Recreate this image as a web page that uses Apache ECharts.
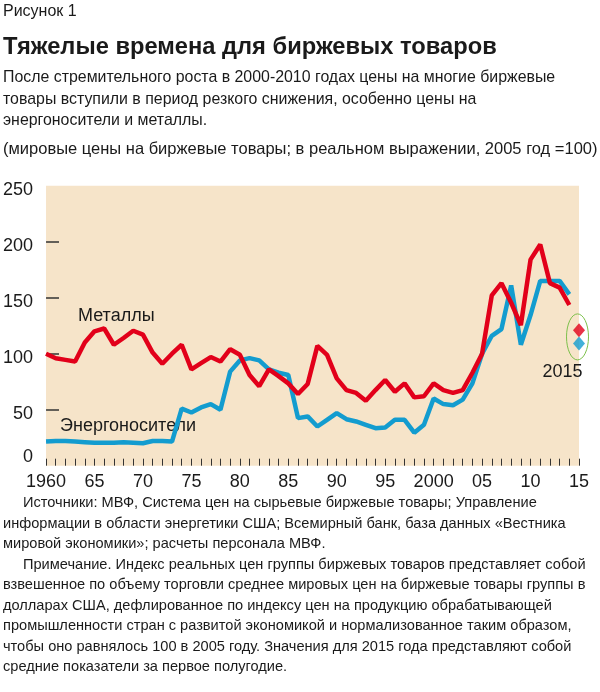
<!DOCTYPE html>
<html>
<head>
<meta charset="utf-8">
<script src="https://cdn.jsdelivr.net/npm/echarts@6/dist/echarts.min.js"></script>
<style>
  html, body { margin: 0; padding: 0; background: #fff; }
  #chart { width: 600px; height: 692px; }
</style>
</head>
<body>
<div id="chart"></div>
<script>
// годы 1960–2015
var years = [];
for (var y = 1960; y <= 2015; y++) years.push(String(y));

// Металлы, 1960–2014 (2005 = 100)
var metals = [
  100, 96, 94.5, 93, 110, 120, 122.5, 108, 114, 120.5,
  117, 101, 91, 100, 108, 86, 91.5, 97, 93, 104,
  99, 81, 71, 86, 80, 73.5, 64, 73, 107, 99,
  78, 67.5, 65, 58, 67.5, 76.5, 66, 73.5, 61, 62,
  73.5, 67.5, 65, 67.5, 83, 100, 152, 163, 145.5, 125.5,
  184, 197.5, 163, 159, 143.5, null
];
// Энергоносители, 1960–2014
var energy = [
  21.5, 22, 22, 21.5, 21, 20.5, 20.5, 20.5, 21, 20.5,
  20, 22, 22, 21.5, 51, 47.5, 52, 55, 50, 84,
  94, 96, 94, 86, 83, 81, 42.5, 44, 35, 41,
  47, 41.5, 39.5, 36.5, 33.5, 34, 41, 41, 29.5, 36.5,
  60, 55, 54, 59, 73.5, 100, 116, 122, 161, 108,
  134.5, 165, 165, 165, 153, null
];
// 2015: среднее за первое полугодие
var metals2015 = 121;
var energy2015 = 109;

var yTicks = [50, 100, 150, 200];

var font = '"Liberation Sans", Arial, sans-serif';
var red = '#e2001a';
var blue = '#139ccf';

var headLines = [
  'После стремительного роста в 2000-2010 годах цены на многие биржевые',
  'товары вступили в период резкого снижения, особенно цены на',
  'энергоносители и металлы.'
];
var unitsLine = '(мировые цены на биржевые товары; в реальном выражении, 2005 год =100)';
var notes = [
  ['Источники: МВФ, Система цен на сырьевые биржевые товары; Управление', true],
  ['информации в области энергетики США; Всемирный банк, база данных «Вестника', false],
  ['мировой экономики»; расчеты персонала МВФ.', false],
  ['Примечание. Индекс реальных цен группы биржевых товаров представляет собой', true],
  ['взвешенное по объему торговли среднее мировых цен на биржевые товары группы в', false],
  ['долларах США, дефлированное по индексу цен на продукцию обрабатывающей', false],
  ['промышленности стран с развитой экономикой и нормализованное таким образом,', false],
  ['чтобы оно равнялось 100 в 2005 году. Значения для 2015 года представляют собой', false],
  ['средние показатели за первое полугодие.', false]
];

// подбор кегля под ширину строки
var ctx = document.createElement('canvas').getContext('2d');
function measure(s, size, weight, fam) {
  ctx.font = (weight || 'normal') + ' ' + size + 'px ' + fam;
  return ctx.measureText(s).width;
}
function fit(s, width, weight, fam) {
  return Math.round(20 * width / measure(s, 20, weight, fam) * 10) / 10;
}
var narrowFam = '"Liberation Sans Narrow", monospace';
var hasNarrow = measure('Примечание abc', 20, 'normal', narrowFam) !==
                measure('Примечание abc', 20, 'normal', 'monospace');
var noteFont = hasNarrow ? '"Liberation Sans Narrow", "Liberation Sans", sans-serif' : font;

function txt(x, y, s, size, weight, fam) {
  return {
    type: 'text', left: x, top: y,
    style: { text: s, font: (weight || 'normal') + ' ' + size + 'px ' + (fam || font), fill: '#1a1a1a' }
  };
}

var titleSize = fit('Тяжелые времена для биржевых товаров', 494, 'bold', font);
var headSize = fit(headLines[0], 552, 'normal', font);
var unitsSize = fit(unitsLine, 594, 'normal', font);
var noteSize = fit(notes[4][0], 582, 'normal', noteFont);

var graphics = [];
graphics.push(txt(3, 4, 'Рисунок 1', 16));
graphics.push(txt(3, 47 - titleSize / 2, 'Тяжелые времена для биржевых товаров', titleSize, 'bold'));
headLines.forEach(function (s, i) {
  graphics.push(txt(3, 78 - headSize / 2 + i * 21.5, s, headSize));
});
graphics.push(txt(3, 149 - unitsSize / 2, unitsLine, unitsSize));
notes.forEach(function (n, i) {
  graphics.push(txt(n[1] ? 23 : 3, 503 - noteSize / 2 + i * 20.5, n[0], noteSize, 'normal', noteFont));
});
graphics.push(txt(78, 307, 'Металлы', 18));
graphics.push(txt(60, 417, 'Энергоносители', 18));

var chart = echarts.init(document.getElementById('chart'));
var option = {
  animation: false,
  grid: {
    left: 45.7, right: 21, top: 185.7, bottom: 226.3,
    show: true, backgroundColor: '#f6e4c9', borderWidth: 0
  },
  xAxis: {
    type: 'category',
    data: years,
    boundaryGap: false,
    axisLine: { show: false },
    axisTick: { show: true, inside: true, length: 7, interval: 0, lineStyle: { color: '#333', width: 1 } },
    axisLabel: {
      interval: function (i) { return i % 5 === 0; },
      formatter: function (v) {
        return (v === '1960' || v === '2000') ? v : v.slice(2);
      },
      fontFamily: font, fontSize: 18, color: '#1a1a1a', margin: 7
    },
    splitLine: { show: false }
  },
  yAxis: {
    type: 'value',
    min: 0, max: 250, interval: 50,
    axisLine: { show: false },
    axisTick: { show: true, inside: true, length: 13, customValues: yTicks, lineStyle: { color: '#333', width: 1.5 } },
    axisLabel: {
      fontFamily: font, fontSize: 18, color: '#1a1a1a', margin: 13,
      formatter: function (v) { return v === 0 ? '{z|0}' : '{a|' + v + '}'; },
      rich: {
        a: { fontFamily: font, fontSize: 18, color: '#1a1a1a', padding: [9, 0, 0, 0] },
        z: { fontFamily: font, fontSize: 18, color: '#1a1a1a', padding: [0, 0, 18, 0] }
      }
    },
    splitLine: { show: false }
  },
  series: [
    {
      name: 'Энергоносители', type: 'line', data: energy,
      symbol: 'none', lineStyle: { color: blue, width: 4.5 }, z: 2
    },
    {
      name: 'Металлы', type: 'line', data: metals,
      symbol: 'none', lineStyle: { color: red, width: 4.5 }, z: 3
    },
    {
      type: 'scatter', data: [['2015', metals2015]],
      symbol: 'diamond', symbolSize: [12, 14], itemStyle: { color: red }, z: 4
    },
    {
      type: 'scatter', data: [['2015', energy2015]],
      symbol: 'diamond', symbolSize: [12, 14], itemStyle: { color: blue }, z: 4
    }
  ],
  graphic: graphics
};
chart.setOption(option);

// овал вокруг точек 2015 года и подпись
var top2015 = chart.convertToPixel({ gridIndex: 0 }, ['2015', metals2015]);
var bot2015 = chart.convertToPixel({ gridIndex: 0 }, ['2015', energy2015]);
var cx = top2015[0] - 1.5, cy = (top2015[1] + bot2015[1]) / 2;
graphics.push({
  type: 'ellipse', shape: { cx: cx, cy: cy, rx: 11, ry: 23 },
  style: { fill: 'none', stroke: '#7cc04a', lineWidth: 1 }, z: 10
});
graphics.push({
  type: 'text', x: cx - 15, y: cy + 35,
  style: { text: '2015', font: '18px ' + font, fill: '#1a1a1a', align: 'center', verticalAlign: 'middle' }, z: 10
});
chart.setOption({ graphic: graphics }, { replaceMerge: ['graphic'] });
</script>
</body>
</html>
